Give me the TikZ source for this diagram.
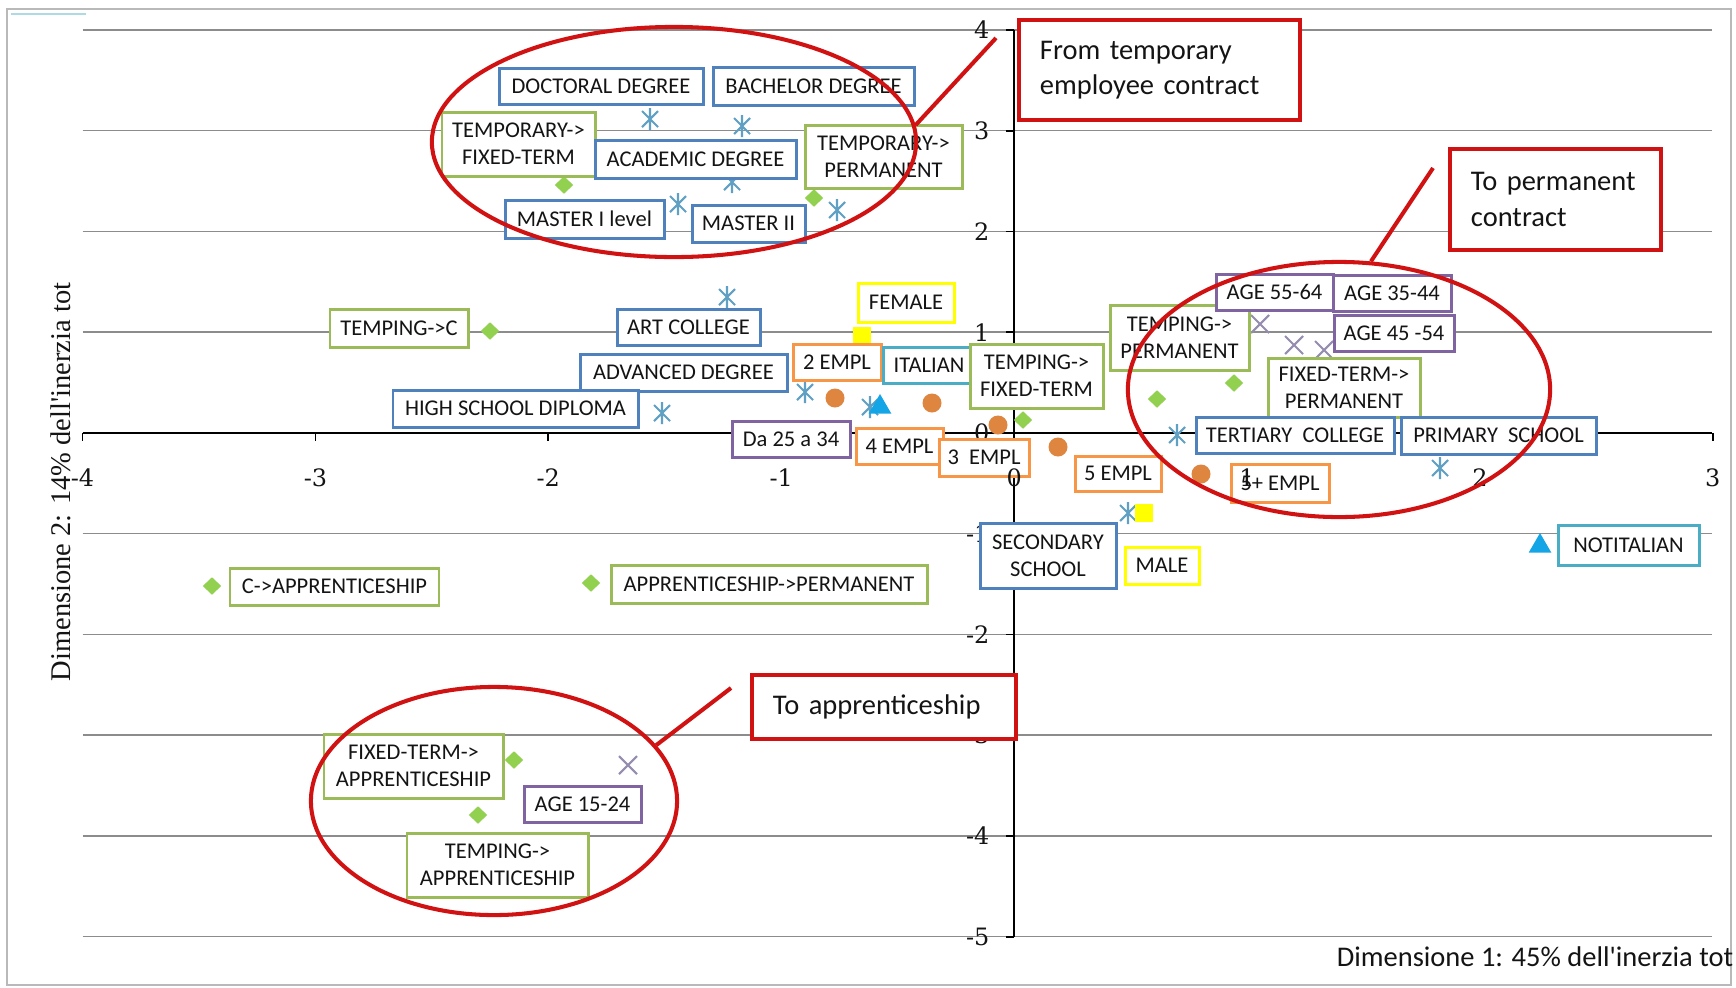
\documentclass[tikz,border=0pt]{standalone}
\usepackage{fontspec}
\usetikzlibrary{shapes.geometric}
\newfontfamily\calib{Carlito}
\newfontfamily\serf{Liberation Serif}
\newfontfamily\tickf{DejaVu Serif}
\definecolor{bxblue}{RGB}{79,129,189}
\definecolor{bxgreen}{RGB}{155,187,89}
\definecolor{bxpurple}{RGB}{128,100,162}
\definecolor{bxorange}{RGB}{247,150,70}
\definecolor{bxteal}{RGB}{75,172,198}
\definecolor{bxyellow}{RGB}{255,255,0}
\definecolor{callred}{RGB}{208,18,18}
\definecolor{mkgreen}{RGB}{146,208,80}
\definecolor{mkorange}{RGB}{222,134,64}
\definecolor{mkblue}{RGB}{20,165,230}
\definecolor{mkast}{RGB}{95,160,195}
\definecolor{mkx}{RGB}{150,140,175}
\definecolor{gridgray}{RGB}{140,140,140}
\definecolor{framegray}{RGB}{185,185,185}
\definecolor{inktext}{RGB}{20,20,20}

% data label: name, colour, x1, y1, x2, y2, text
\newcommand\dbox[7]{%
  \node[dlab,draw=#2,minimum width={(#5-#3)*0.01cm},minimum height={(#6-#4)*0.01cm}]
    (#1) at ({(#3+#5)/2},{(#4+#6)/2}) {#7};}
% asterisk and cross markers
\newcommand\astk[2]{\draw[astline,shift={(#1,#2)}] (-8,-8) -- (8,8) (-8,8) -- (8,-8) (0,-11) -- (0,11);}
\newcommand\xmk[2]{\draw[xline,shift={(#1,#2)}] (-9,-9) -- (9,9) (-9,9) -- (9,-9);}

\begin{document}
\begin{tikzpicture}[x=0.01cm,y=-0.01cm,
  grid/.style={gridgray,line width=0.45pt},
  axisline/.style={black,line width=0.5pt},
  tick/.style={inner sep=0,text=inktext,font=\tickf\fontsize{6.8}{8}\selectfont},
  dlab/.style={fill=white,line width=0.85pt,inner sep=0,align=center,text=inktext,
    font=\calib\fontsize{6.4}{7.7}\selectfont},
  gdia/.style={diamond,fill=mkgreen,inner sep=0,minimum width=0.19cm,minimum height=0.18cm},
  ocirc/.style={circle,fill=mkorange,inner sep=0,minimum size=0.19cm},
  btri/.style={regular polygon,regular polygon sides=3,fill=mkblue,inner sep=0,minimum size=0.26cm},
  ysq/.style={rectangle,fill=bxyellow,inner sep=0,minimum size=0.18cm},
  astline/.style={mkast,line width=0.6pt},
  xline/.style={mkx,line width=0.6pt},
  callbox/.style={draw=callred,line width=1.15pt,fill=white,align=left,inner xsep=0.21cm,
    inner ysep=0,text=inktext,font=\calib\fontsize{8.1}{10}\selectfont},
  group/.style={ellipse,draw=callred,line width=1.15pt,inner sep=0},
  callline/.style={callred,line width=1.15pt}]
\useasboundingbox (0,0) rectangle (1736,987);
\fill[white] (0,0) rectangle (1736,987);

% chart frame
\draw[framegray,line width=0.45pt] (7,9) rectangle (1731,985);
\draw[bxteal!45,line width=0.4pt] (11,14) -- (86,14);

% horizontal gridlines
\foreach \k in {4,3,2,1,-1,-2,-3,-4,-5}
  \draw[grid] (82.5,{432.9-100.75*\k}) -- (1712.4,{432.9-100.75*\k});

% axes and ticks
\draw[axisline] (82.5,432.9) -- (1712.4,432.9);
\draw[axisline] (1014.1,29.9) -- (1014.1,936.7);
\foreach \k in {-4,...,3}
  \draw[axisline] ({1014.1+232.9*\k},432.9) -- ++(0,8);
\foreach \k in {-5,...,4}
  \draw[axisline] (1014.1,{432.9-100.75*\k}) -- ++(-8,0);

% y tick labels
\foreach \k in {-5,...,4}
  \node[tick,anchor=east] (yt\k) at (990,{432.9-100.75*\k}) {\k};

% markers: educational levels
\astk{650}{119} \astk{742}{126} \astk{732}{182} \astk{678}{204} \astk{837}{210}
\astk{727}{297} \astk{805}{392} \astk{662}{413} \astk{870}{407}
\astk{1128}{513} \astk{1177}{435} \astk{1440}{468}
% markers: age classes
\xmk{1260}{324} \xmk{1294}{345} \xmk{1324}{350} \xmk{628}{765}
% markers: transitions
\node[gdia] (d1) at (564,185) {};
\node[gdia] (d2) at (814,198) {};
\node[gdia] (d3) at (490,331) {};
\node[gdia] (d4) at (1023,420) {};
\node[gdia] (d5) at (591,583) {};
\node[gdia] (d6) at (212,586) {};
\node[gdia] (d7) at (1234,383) {};
\node[gdia] (d8) at (1157,399) {};
\node[gdia] (d9) at (514,760) {};
\node[gdia] (d10) at (478,815) {};
% markers: firm size
\node[ocirc] (c1) at (835,398) {};
\node[ocirc] (c2) at (932,403) {};
\node[ocirc] (c3) at (998,425) {};
\node[ocirc] (c4) at (1058,447) {};
\node[ocirc] (c5) at (1201,474) {};
% markers: nationality and gender
\node[btri] (t1) at (880,407) {};
\node[btri] (t2) at (1540,546) {};
\node[ysq] (s1) at (862,336) {};
\node[ysq] (s2) at (1144,513) {};

% data labels
\dbox{doct}{bxblue}{499}{68}{703}{104}{DOCTORAL DEGREE}
\dbox{bach}{bxblue}{713}{67}{914}{105}{BACHELOR DEGREE}
\dbox{tmpfix}{bxgreen}{442}{112}{595}{176}{TEMPORARY->\\FIXED-TERM}
\dbox{acad}{bxblue}{595}{140}{796}{178}{ACADEMIC DEGREE}
\dbox{tmpperm}{bxgreen}{805}{125}{962}{188}{TEMPORARY->\\PERMANENT}
\dbox{mast1}{bxblue}{505}{200}{664}{238}{MASTER I level}
\dbox{mast2}{bxblue}{692}{205}{805}{242}{MASTER II}
\dbox{artc}{bxblue}{617}{309}{760}{345}{ART COLLEGE}
\dbox{tempc}{bxgreen}{330}{309}{468}{347}{TEMPING->C}
\dbox{female}{bxyellow}{858}{283}{954}{322}{FEMALE}
\dbox{advd}{bxblue}{580}{354}{787}{391}{ADVANCED DEGREE}
\dbox{emp2}{bxorange}{793}{344}{881}{380}{2 EMPL}
\dbox{ital}{bxteal}{883}{347}{975}{383}{ITALIAN}
\dbox{tempfix}{bxgreen}{970}{344}{1103}{408}{TEMPING->\\FIXED-TERM}
\dbox{hsd}{bxblue}{393}{390}{638}{427}{HIGH SCHOOL DIPLOMA}
\dbox{age2534}{bxpurple}{732}{421}{850}{457}{Da 25 a 34}
\dbox{emp4}{bxorange}{856}{428}{943}{464}{4 EMPL}
\dbox{emp3}{bxorange}{939}{439}{1029}{476}{3\ \ EMPL}
\dbox{emp5}{bxorange}{1075}{456}{1161}{491}{5 EMPL}
\dbox{secs}{bxblue}{980}{523}{1116}{588}{SECONDARY\\SCHOOL}
\dbox{male}{bxyellow}{1125}{547}{1199}{584}{MALE}
\dbox{appperm}{bxgreen}{611}{565}{927}{603}{APPRENTICESHIP->PERMANENT}
\dbox{capp}{bxgreen}{230}{568}{439}{605}{C->APPRENTICESHIP}
\dbox{tempperm}{bxgreen}{1110}{305}{1249}{370}{TEMPING->\\PERMANENT}
\dbox{age5564}{bxpurple}{1216}{274}{1333}{310}{AGE 55-64}
\dbox{age3544}{bxpurple}{1333}{275}{1451}{311}{AGE 35-44}
\dbox{age4554}{bxpurple}{1334}{315}{1454}{351}{AGE 45 -54}
\dbox{fixperm}{bxgreen}{1268}{358}{1420}{417}{FIXED-TERM->\\PERMANENT}
\dbox{tert}{bxblue}{1196}{417}{1394}{453}{TERTIARY\ \ COLLEGE}
\dbox{prim}{bxblue}{1401}{417}{1596}{454}{PRIMARY\ \ SCHOOL}
\dbox{emp5p}{bxorange}{1231}{464}{1329}{502}{5+ EMPL}
\dbox{notit}{bxteal}{1558}{525}{1699}{565}{NOTITALIAN}
\dbox{fixapp}{bxgreen}{324}{734}{503}{798}{FIXED-TERM->\\APPRENTICESHIP}
\dbox{age1524}{bxpurple}{524}{786}{641}{822}{AGE 15-24}
\dbox{tempapp}{bxgreen}{407}{833}{588}{897}{TEMPING->\\APPRENTICESHIP}

% x tick labels
\foreach \k in {-4,...,3}
  \node[tick] (xt\k) at ({1014.1+232.9*\k},478) {\k};

% axis titles
\node[rotate=90,inner sep=0,text=inktext,font=\serf\fontsize{8.1}{9}\selectfont]
  (ytitle) at (61,482) {Dimensione 2: 14\% dell'inerzia tot};
\node[inner sep=0,text=inktext,font=\calib\fontsize{8.1}{9}\selectfont]
  (xtitle) at (1535,957) {Dimensione 1: 45\% dell'inerzia tot};

% highlighted groups and their comments
\node[group,minimum width=4.84cm,minimum height=2.30cm] (grpTemp) at (674,142) {};
\node[group,minimum width=4.22cm,minimum height=2.55cm] (grpPerm) at (1339,389.5) {};
\node[group,minimum width=3.66cm,minimum height=2.28cm] (grpApp) at (494,801) {};

\node[callbox,text width=2.39cm,minimum height=1.00cm] (noteTemp) at (1159.5,70)
  {From temporary\\employee contract};
\node[callbox,text width=1.69cm,minimum height=1.01cm] (notePerm) at (1555.5,199.5)
  {To permanent\\contract};
\node[callbox,text width=2.22cm,minimum height=0.64cm] (noteApp) at (884,707)
  {To apprenticeship};

\coordinate (tipTemp) at (996,38);
\coordinate (tipPerm) at (1433,168);
\coordinate (tipApp) at (731,688);
\draw[callline] (grpTemp.4) -- (tipTemp);
\draw[callline] (grpPerm.76) -- (tipPerm);
\draw[callline] (grpApp.19) -- (tipApp);
\end{tikzpicture}
\end{document}
